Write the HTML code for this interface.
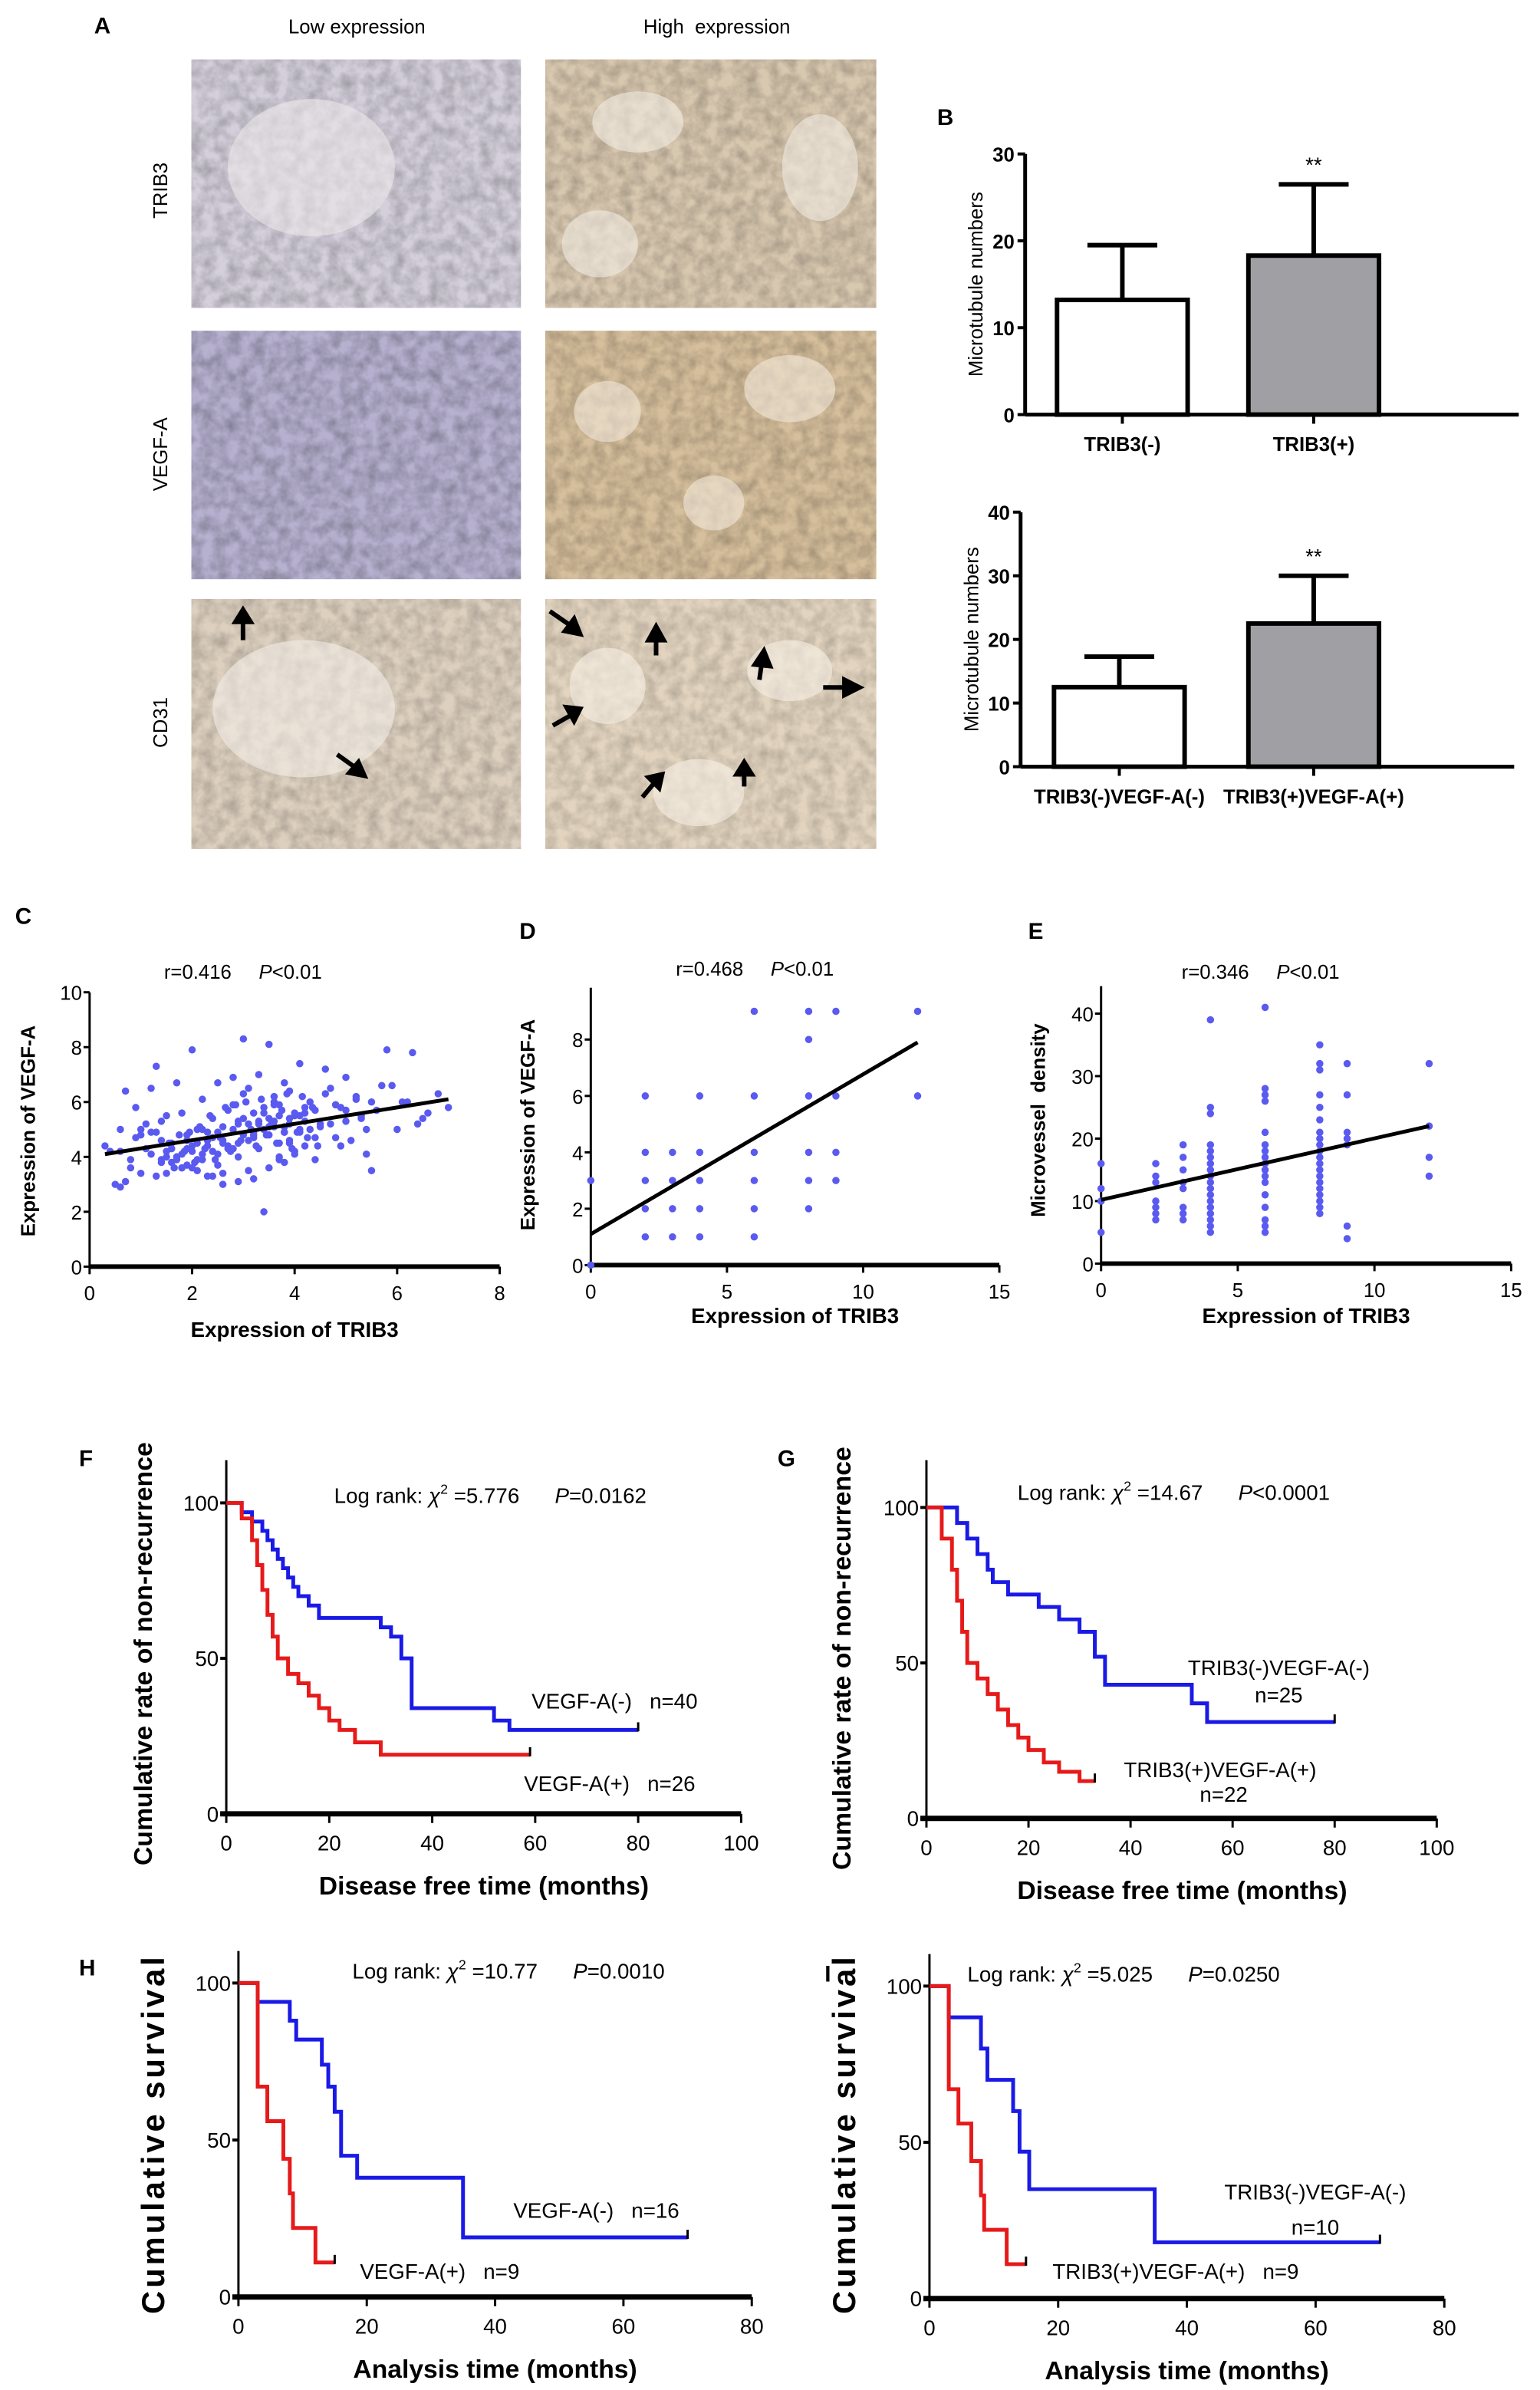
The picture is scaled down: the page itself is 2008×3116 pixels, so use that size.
<!DOCTYPE html>
<html><head><meta charset="utf-8">
<style>
html,body{margin:0;padding:0;background:#fff;}
svg{display:block;}
text{font-family:"Liberation Sans",Arial,sans-serif;fill:#000;white-space:pre;}
</style></head>
<body>
<svg id="fig" xmlns="http://www.w3.org/2000/svg" width="2008" height="3116" viewBox="0 0 1014 1568" preserveAspectRatio="none">
<defs>
<filter id="tex" x="0" y="0" width="100%" height="100%">
<feTurbulence type="fractalNoise" baseFrequency="0.12" numOctaves="3" seed="4"/>
<feColorMatrix type="matrix" values="0 0 0 0 0  0 0 0 0 0  0 0 0 0 0  0 0 0 -1.2 0.85"/>
<feComposite in2="SourceGraphic" operator="in"/>
</filter>
</defs>
<rect width="1014" height="1568" fill="#fff"/>

<g>
<text x="62" y="22" font-size="15" font-weight="bold">A</text>
<text x="235" y="22" font-size="13" text-anchor="middle">Low expression</text>
<text x="472" y="22" font-size="13" text-anchor="middle">High  expression</text>
<text transform="translate(110,125) rotate(-90)" font-size="13" text-anchor="middle">TRIB3</text>
<text transform="translate(110,298) rotate(-90)" font-size="13" text-anchor="middle">VEGF-A</text>
<text transform="translate(110,474) rotate(-90)" font-size="13" text-anchor="middle">CD31</text>
<g><rect x="126" y="39" width="217" height="163" fill="#d4cfdb"/><rect x="126" y="39" width="217" height="163" fill="#5e5490" filter="url(#tex)" opacity="0.3"/><ellipse cx="205" cy="110" rx="55" ry="45" fill="#ebe8ea" opacity="0.6"/></g>
<g><rect x="359" y="39" width="218" height="163" fill="#d9c8b0"/><rect x="359" y="39" width="218" height="163" fill="#7a5a40" filter="url(#tex)" opacity="0.3"/><ellipse cx="420" cy="80" rx="30" ry="20" fill="#f2ece2" opacity="0.6"/><ellipse cx="540" cy="110" rx="25" ry="35" fill="#f2ece2" opacity="0.6"/><ellipse cx="395" cy="160" rx="25" ry="22" fill="#f2ece2" opacity="0.6"/></g>
<g><rect x="126" y="217" width="217" height="163" fill="#b7b1d0"/><rect x="126" y="217" width="217" height="163" fill="#342c70" filter="url(#tex)" opacity="0.35"/></g>
<g><rect x="359" y="217" width="218" height="163" fill="#d6bf9c"/><rect x="359" y="217" width="218" height="163" fill="#8a6030" filter="url(#tex)" opacity="0.3"/><ellipse cx="400" cy="270" rx="22" ry="20" fill="#f1e8da" opacity="0.6"/><ellipse cx="520" cy="255" rx="30" ry="22" fill="#f1e8da" opacity="0.6"/><ellipse cx="470" cy="330" rx="20" ry="18" fill="#f1e8da" opacity="0.6"/></g>
<g><rect x="126" y="393" width="217" height="164" fill="#ddd0bf"/><rect x="126" y="393" width="217" height="164" fill="#7c6250" filter="url(#tex)" opacity="0.28"/><ellipse cx="200" cy="465" rx="60" ry="45" fill="#f4efe8" opacity="0.6"/></g>
<g><rect x="359" y="393" width="218" height="164" fill="#e2d4bf"/><rect x="359" y="393" width="218" height="164" fill="#80613f" filter="url(#tex)" opacity="0.25"/><ellipse cx="400" cy="450" rx="25" ry="25" fill="#f6f0e6" opacity="0.6"/><ellipse cx="520" cy="440" rx="28" ry="20" fill="#f6f0e6" opacity="0.6"/><ellipse cx="460" cy="520" rx="30" ry="22" fill="#f6f0e6" opacity="0.6"/></g>
<g stroke="#000" stroke-width="3" fill="#000">
<path d="M160 420 L160 404" /><path d="M155 408 L160 400 L165 408Z"/>
<path d="M222 495 L236 505"/><path d="M230 507 L240 509 L236 500Z"/>
<path d="M362 401 L378 412"/><path d="M372 414 L382 416 L378 406Z"/>
<path d="M432 430 L432 416"/><path d="M427 420 L432 411 L437 420Z"/>
<path d="M500 446 L502 432"/><path d="M497 436 L503 427 L507 437Z"/>
<path d="M542 451 L560 451"/><path d="M556 446 L566 451 L556 456Z"/>
<path d="M364 476 L378 468"/><path d="M373 464 L382 465 L378 473Z"/>
<path d="M423 523 L433 511"/><path d="M427 510 L436 508 L434 517Z"/>
<path d="M490 516 L490 504"/><path d="M485 508 L490 500 L495 508Z"/>
</g>
</g>

<text x="617" y="82" font-size="15" font-weight="bold">B</text>
<g id="b1"></g>
<g id="b2"></g>

<text x="10" y="606" font-size="15" font-weight="bold">C</text>
<text x="342" y="616" font-size="15" font-weight="bold">D</text>
<text x="677" y="616" font-size="15" font-weight="bold">E</text>
<g id="pc"></g>
<g id="pd"></g>
<g id="pe"></g>

<text x="52" y="962" font-size="15" font-weight="bold">F</text>
<text x="512" y="962" font-size="15" font-weight="bold">G</text>
<text x="52" y="1296" font-size="15" font-weight="bold">H</text>
<text x="543" y="1300" font-size="15" font-weight="bold">I</text>
<g id="pf"></g>
<g id="pg"></g>
<g id="ph"></g>
<g id="pi"></g>
</svg>
<script>
// ---- Panel B data ----
const b1Categories = ["TRIB3(-)", "TRIB3(+)"];
const b1Means = [13.2, 18.3];
const b1Errors = [6.3, 8.2];
const b1Ticks = [0, 10, 20, 30];
const b2Categories = ["TRIB3(-)VEGF-A(-)", "TRIB3(+)VEGF-A(+)"];
const b2Means = [12.5, 22.5];
const b2Errors = [4.8, 7.5];
const b2Ticks = [0, 10, 20, 30, 40];

// ---- Panel C data ----
const cX = [0.3,0.5,0.6,0.6,0.7,0.8,0.9,1.0,1.0,1.1,1.2,1.2,1.3,1.3,1.4,1.4,1.5,1.5,1.6,1.6,1.7,1.7,1.8,1.8,1.9,1.9,2.0,2.0,2.1,2.1,2.2,2.2,2.3,2.3,2.4,2.4,2.5,2.5,2.6,2.6,2.7,2.7,2.8,2.8,2.9,2.9,3.0,3.0,3.1,3.1,3.2,3.2,3.3,3.3,3.4,3.4,3.5,3.5,3.6,3.6,3.7,3.7,3.8,3.8,3.9,3.9,4.0,4.0,4.1,4.1,4.2,4.2,4.3,4.4,4.5,4.6,4.7,4.8,4.9,5.0,5.0,5.1,5.2,5.3,5.4,5.5,5.6,5.8,6.0,6.2,6.3,6.5,6.8,7.0,0.8,1.1,1.4,1.7,2.0,2.3,2.6,2.9,3.2,3.5,3.8,4.1,4.4,4.7,5.0,1.5,2.5,3.0,3.6,4.2,2.8,3.4,0.6,1.9,4.8,5.5,3.1,3.3,2.2,1.3,3.9,4.5,
 1.5,1.6,1.7,1.8,1.9,2.0,2.1,2.2,2.3,2.4,2.5,2.6,2.7,2.8,2.9,3.0,3.1,3.2,3.3,3.4,3.5,3.6,3.7,3.8,3.9,4.0,4.1,4.2,4.3,4.4,1.55,1.65,1.75,1.85,1.95,2.05,2.15,2.25,2.35,2.45,2.55,2.65,2.75,2.85,2.95,3.05,3.15,3.25,3.35,3.45,3.55,3.65,3.75,3.85,3.95,4.05,4.15,4.25,4.35,4.45,0.4,0.9,1.2,4.6,4.8,5.2,5.4,5.7,6.1,6.6,1.0,1.4,3.6,3.7,3.8,4.9,5.3,5.9,6.4,0.7,2.6,2.9,3.2,3.5,3.7,4.0,2.4,2.1,1.8,3.9];
const cY = [4.4,3.0,5.0,4.2,6.4,3.6,5.8,4.8,3.4,5.2,4.1,6.5,3.3,7.3,4.6,3.9,5.5,4.2,3.8,4.5,6.7,4.0,5.6,3.6,4.8,4.3,7.9,4.4,3.9,5.0,6.1,4.1,4.6,3.3,5.4,4.2,6.7,4.9,3.0,5.1,4.4,5.7,6.9,4.3,5.2,4.0,8.3,5.4,4.6,3.5,5.6,4.9,7.0,4.3,2.0,5.8,8.1,4.8,5.3,6.2,4.5,5.9,5.1,3.8,6.4,4.6,5.5,4.2,7.4,5.0,4.4,5.6,6.0,3.9,5.2,7.2,6.5,4.7,5.8,6.9,5.3,4.6,6.1,5.4,4.1,3.5,5.7,7.9,5.0,6.0,7.8,5.4,6.3,5.8,3.9,4.3,3.8,4.0,3.6,4.9,4.5,5.3,4.8,5.1,4.9,5.5,4.7,5.2,5.7,3.4,3.7,6.3,6.0,5.8,5.9,5.6,2.9,4.6,5.9,6.0,6.5,5.2,5.0,4.9,5.4,5.1,
 4.0,4.3,3.9,4.1,3.7,4.2,4.5,3.9,4.4,4.7,4.1,4.6,4.3,5.0,4.5,4.8,5.2,4.7,5.3,5.0,5.4,5.1,5.5,4.9,5.2,5.6,4.9,5.3,5.0,5.7,4.5,3.6,4.8,4.2,4.9,3.8,5.1,4.3,5.5,3.9,4.7,5.8,4.2,5.9,4.6,6.0,5.0,4.4,6.1,4.8,5.2,4.5,5.7,6.3,4.3,4.9,6.2,4.7,5.8,4.4,4.2,4.7,4.9,6.3,5.9,6.2,5.0,6.6,6.0,5.6,5.0,5.3,5.9,4.0,6.7,4.4,5.5,6.6,5.2,3.1,3.4,3.1,3.2,3.6,3.9,4.1,3.3,3.5,3.6,4.5];
const cLine = [[0.3, 4.1], [7.0, 6.1]];
const cXTicks = [0, 2, 4, 6, 8];
const cYTicks = [0, 2, 4, 6, 8, 10];

// ---- Panel D data ----
const dX = [0,0,2,2,2,2,2,3,3,3,3,4,4,4,4,4,6,6,6,6,6,6,8,8,8,8,8,8,9,9,9,9,12,12];
const dY = [0,3,1,2,3,4,6,1,2,3,4,1,2,3,4,6,1,2,3,4,6,9,2,3,4,6,8,9,3,4,6,9,6,9];
const dLine = [[0, 1.1], [12, 7.9]];
const dXTicks = [0, 5, 10, 15];
const dYTicks = [0, 2, 4, 6, 8];

// ---- Panel E data ----
const eX = [0,0,0,0,2,2,2,2,2,2,2,3,3,3,3,3,3,3,3,4,4,4,4,4,4,4,4,4,4,4,4,4,4,4,4,4,4,6,6,6,6,6,6,6,6,6,6,6,6,6,6,6,6,6,8,8,8,8,8,8,8,8,8,8,8,8,8,8,8,8,8,8,8,8,9,9,9,9,9,9,9,12,12,12,12];
const eY = [5,10,12,16,7,8,9,10,13,14,16,7,8,9,12,13,15,17,19,5,6,7,8,9,10,11,12,13,14,15,16,17,18,19,24,25,39,5,6,7,9,11,13,14,15,16,17,18,19,21,26,27,28,41,8,9,10,11,12,13,14,15,16,17,18,19,20,21,23,25,27,31,32,35,4,6,19,20,21,27,32,14,17,22,32];
const eLine = [[0, 10.2], [12, 22]];
const eXTicks = [0, 5, 10, 15];
const eYTicks = [0, 10, 20, 30, 40];

// ---- KM data ----
const fBlueT = [0,3,5,7,8,9,10,11,12,13,14,16,18,30,32,34,36,52,55];
const fBlueS = [100,97,94,91,88,85,82,79,76,73,70,67,63,60,57,50,34,30,27];
const fBlueEnd = 80;
const fRedT = [0,3,5,6,7,8,9,10,12,14,16,18,20,22,25,30];
const fRedS = [100,95,88,80,72,64,57,50,45,42,38,34,30,27,23,19];
const fRedEnd = 59;
const gBlueT = [0,6,8,10,12,13,16,22,26,30,33,35,36,52,55];
const gBlueS = [100,95,90,85,80,76,72,68,64,60,52,43,43,37,31];
const gBlueEnd = 80;
const gRedT = [0,3,5,6,7,8,10,12,14,16,18,20,23,26,30];
const gRedS = [100,90,80,70,60,50,45,40,35,30,26,22,18,15,12];
const gRedEnd = 33;
const hBlueT = [0,3,8,9,13,14,15,16,18.5,35];
const hBlueS = [100,94,88,82,74,67,59,45,38,19];
const hBlueEnd = 70;
const hRedT = [0,3,4.5,7,8,8.5,12];
const hRedS = [100,67,56,44,33,22,11];
const hRedEnd = 15;
const iBlueT = [0,3,8,9,13,14,15.5,35];
const iBlueS = [100,90,80,70,60,47,35,18];
const iBlueEnd = 70;
const iRedT = [0,3,4.5,6.5,8,8.5,12];
const iRedS = [100,67,56,44,33,22,11];
const iRedEnd = 15;
const kmFXTicks = [0, 20, 40, 60, 80, 100];
const kmHXTicks = [0, 20, 40, 60, 80];
const kmYTicks = [0, 50, 100];

const NS = "http://www.w3.org/2000/svg";
function mk(parent, tag, attrs, txt) {
  const e = document.createElementNS(NS, tag);
  for (const k in attrs) e.setAttribute(k, attrs[k]);
  if (txt !== undefined) e.textContent = txt;
  parent.appendChild(e);
  return e;
}
function lin(d0, d1, r0, r1) { return v => r0 + (v - d0) * (r1 - r0) / (d1 - d0); }

function barChart(id, cats, means, errs, ticks, geo) {
  const g = document.getElementById(id);
  const y = lin(0, ticks[ticks.length - 1], geo.y0, geo.y1);
  mk(g, "line", {x1: geo.ax, y1: geo.y0, x2: geo.ax, y2: geo.y1, stroke: "#000", "stroke-width": 2.5});
  const xa = mk(g, "line", {x1: geo.ax, y1: geo.y0, x2: geo.xe, y2: geo.y0, stroke: "#000", "stroke-width": 2.5});
  
  
  ticks.forEach(t => {
    mk(g, "line", {x1: geo.ax - 5, y1: y(t), x2: geo.ax, y2: y(t), stroke: "#000", "stroke-width": 2});
    const tl = mk(g, "text", {x: geo.ax - 7, y: y(t) + 5, "font-size": 13, "font-weight": "bold", "text-anchor": "end"}, t);
    
    
  });
  const yt = mk(g, "text", {transform: `translate(${geo.ax - 28},${(geo.y0 + geo.y1) / 2}) rotate(-90)`, "font-size": 13, "text-anchor": "middle"}, "Microtubule numbers");
  
  
  cats.forEach((c, i) => {
    const cx = geo.cx[i];
    const bw = geo.bw;
    mk(g, "line", {x1: cx, y1: y(means[i]), x2: cx, y2: y(means[i] + errs[i]), stroke: "#000", "stroke-width": 3});
    mk(g, "line", {x1: cx - 23, y1: y(means[i] + errs[i]), x2: cx + 23, y2: y(means[i] + errs[i]), stroke: "#000", "stroke-width": 3});
    const b = mk(g, "rect", {x: cx - bw / 2, y: y(means[i]), width: bw, height: geo.y0 - y(means[i]), fill: i ? "#a0a0a4" : "#fff", stroke: "#000", "stroke-width": 3});
    
    
    mk(g, "line", {x1: cx, y1: geo.y0, x2: cx, y2: geo.y0 + 6, stroke: "#000", "stroke-width": 2});
    const cl = mk(g, "text", {x: cx, y: geo.y0 + 24, "font-size": 13, "font-weight": "bold", "text-anchor": "middle"}, c);
    
    
    if (i === 1) {
      const s = mk(g, "text", {x: cx, y: y(means[i] + errs[i]) - 8, "font-size": 14, "text-anchor": "middle"}, "**");
      
      
    }
  });
}
barChart("b1", b1Categories, b1Means, b1Errors, b1Ticks, {ax: 675, xe: 1000, y0: 272, y1: 101, cx: [739, 865], bw: 86});
barChart("b2", b2Categories, b2Means, b2Errors, b2Ticks, {ax: 672, xe: 997, y0: 503, y1: 336, cx: [737, 865], bw: 86});

function scatter(id, xs, ys, line, xt, yt, geo) {
  const g = document.getElementById(id);
  const x = lin(xt[0], xt[xt.length - 1], geo.x0, geo.x1);
  const y = lin(yt[0], geo.ymaxv, geo.y0, geo.y1);
  mk(g, "line", {x1: geo.x0, y1: geo.y0, x2: geo.x0, y2: geo.ytop, stroke: "#000", "stroke-width": 1.5});
  mk(g, "line", {x1: geo.x0, y1: geo.y0, x2: geo.x1, y2: geo.y0, stroke: "#000", "stroke-width": 3});
  xt.forEach(t => {
    mk(g, "line", {x1: x(t), y1: geo.y0, x2: x(t), y2: geo.y0 + 5, stroke: "#000", "stroke-width": 1.5});
    const tl = mk(g, "text", {x: x(t), y: geo.y0 + 22, "font-size": 13, "text-anchor": "middle"}, t);
    
    
  });
  yt.forEach(t => {
    mk(g, "line", {x1: geo.x0 - 4, y1: y(t), x2: geo.x0, y2: y(t), stroke: "#000", "stroke-width": 1.5});
    const tl = mk(g, "text", {x: geo.x0 - 5, y: y(t) + 5, "font-size": 13, "text-anchor": "end"}, t);
    
    
  });
  xs.forEach((v, i) => {
    const p = mk(g, "circle", {cx: x(v), cy: y(ys[i]), r: 2.4, fill: "#5a5af0"});
    
    
  });
  const l = mk(g, "line", {x1: x(line[0][0]), y1: y(line[0][1]), x2: x(line[1][0]), y2: y(line[1][1]), stroke: "#000", "stroke-width": 2.5});
  
  
  const st = mk(g, "text", {x: geo.statx, y: geo.staty, "font-size": 13}, "");
  mk(st, "tspan", {}, geo.r + "     ");
  mk(st, "tspan", {"font-style": "italic"}, "P");
  mk(st, "tspan", {}, "<0.01");
  
  
  const xtt = mk(g, "text", {x: (geo.x0 + geo.x1) / 2, y: geo.xty, "font-size": 14, "font-weight": "bold", "text-anchor": "middle"}, "Expression of TRIB3");
  
  
  const ytt = mk(g, "text", {transform: `translate(${geo.ytx},${geo.yty}) rotate(-90)`, "font-size": 13, "font-weight": "bold", "text-anchor": "middle"}, geo.ytitle);
  
  
}
scatter("pc", cX, cY, cLine, cXTicks, cYTicks, {x0: 59, x1: 329, y0: 831, y1: 651, ymaxv: 10, ytop: 651, statx: 108, staty: 642, r: "r=0.416", xty: 877, ytx: 23, yty: 742, ytitle: "Expression of VEGF-A"});
scatter("pd", dX, dY, dLine, dXTicks, dYTicks, {x0: 389, x1: 658, y0: 830, y1: 682, ymaxv: 8, ytop: 648, statx: 445, staty: 640, r: "r=0.468", xty: 868, ytx: 352, yty: 738, ytitle: "Expression of VEGF-A"});
scatter("pe", eX, eY, eLine, eXTicks, eYTicks, {x0: 725, x1: 995, y0: 829, y1: 665, ymaxv: 40, ytop: 647, statx: 778, staty: 642, r: "r=0.346", xty: 868, ytx: 688, yty: 735, ytitle: "Microvessel  density"});

function km(id, series, xt, geo) {
  const g = document.getElementById(id);
  const x = lin(xt[0], xt[xt.length - 1], geo.x0, geo.x1);
  const y = lin(0, 100, geo.y0, geo.y100);
  mk(g, "line", {x1: geo.x0, y1: geo.y0, x2: geo.x0, y2: geo.ytop, stroke: "#000", "stroke-width": 1.5});
  mk(g, "line", {x1: geo.x0 - 4, y1: geo.y0, x2: geo.x1, y2: geo.y0, stroke: "#000", "stroke-width": 3.5});
  xt.forEach(t => {
    mk(g, "line", {x1: x(t), y1: geo.y0, x2: x(t), y2: geo.y0 + 6, stroke: "#000", "stroke-width": 1.5});
    const tl = mk(g, "text", {x: x(t), y: geo.y0 + 24, "font-size": 14, "text-anchor": "middle"}, t);
    
    
  });
  kmYTicks.forEach(t => {
    mk(g, "line", {x1: geo.x0 - 4, y1: y(t), x2: geo.x0, y2: y(t), stroke: "#000", "stroke-width": 2});
    const tl = mk(g, "text", {x: geo.x0 - 5, y: y(t) + 5, "font-size": 14, "text-anchor": "end"}, t);
    
    
  });
  series.forEach(s => {
    let d = `M${x(s.t[0])},${y(s.s[0])}`;
    for (let i = 1; i < s.t.length; i++) d += ` H${x(s.t[i])} V${y(s.s[i])}`;
    d += ` H${x(s.end)}`;
    const p = mk(g, "path", {d: d, fill: "none", stroke: s.color, "stroke-width": 2.5});
    
    
    mk(g, "line", {x1: x(s.end), y1: y(s.s[s.s.length - 1]) - 5, x2: x(s.end), y2: y(s.s[s.s.length - 1]) + 1, stroke: "#000", "stroke-width": 1.5});
  });
  const st = mk(g, "text", {x: geo.sx, y: geo.sy, "font-size": 14}, "");
  mk(st, "tspan", {}, "Log rank: ");
  mk(st, "tspan", {"font-style": "italic"}, "χ");
  mk(st, "tspan", {"font-size": 9, dy: -6}, "2");
  mk(st, "tspan", {dy: 6}, " =" + geo.chi + "      ");
  mk(st, "tspan", {"font-style": "italic"}, "P");
  mk(st, "tspan", {}, geo.p);
  
  
  geo.labels.forEach(L => {
    const t = mk(g, "text", {x: L[0], y: L[1], "font-size": 14, "text-anchor": L[3] || "start"}, L[2]);
    
    
  });
  const xtt = mk(g, "text", {x: (geo.x0 + x(80)) / 2 + geo.xtoff, y: geo.y0 + 53, "font-size": 17, "font-weight": "bold", "text-anchor": "middle"}, geo.xtitle);
  
  
  const ytt = mk(g, "text", {transform: `translate(${geo.ytx},${geo.yty}) rotate(-90)`, "font-size": geo.ytsize, "font-weight": "bold", "text-anchor": "middle", "letter-spacing": geo.ytls}, geo.ytitle);
  
  
}
km("pf", [{t: fBlueT, s: fBlueS, end: fBlueEnd, color: "#1a1ae6", name: "curve-vegfa-negative"}, {t: fRedT, s: fRedS, end: fRedEnd, color: "#e61a1a", name: "curve-vegfa-positive"}], kmFXTicks,
  {x0: 149, x1: 488, y0: 1190, y100: 986, ytop: 958, sx: 220, sy: 986, chi: "5.776", p: "=0.0162", xtitle: "Disease free time (months)", xtoff: 34, ytx: 100, yty: 1085, ytsize: 17, ytls: 0, ytitle: "Cumulative rate of non-recurrence",
   labels: [[350, 1121, "VEGF-A(-)   n=40"], [345, 1175, "VEGF-A(+)   n=26"]]});
km("pg", [{t: gBlueT, s: gBlueS, end: gBlueEnd, color: "#1a1ae6", name: "curve-trib3-vegfa-negative"}, {t: gRedT, s: gRedS, end: gRedEnd, color: "#e61a1a", name: "curve-trib3-vegfa-positive"}], kmFXTicks,
  {x0: 610, x1: 946, y0: 1193, y100: 989, ytop: 958, sx: 670, sy: 984, chi: "14.67", p: "<0.0001", xtitle: "Disease free time (months)", xtoff: 34, ytx: 560, yty: 1088, ytsize: 17, ytls: 0, ytitle: "Cumulative rate of non-recurrence",
   labels: [[842, 1099, "TRIB3(-)VEGF-A(-)", "middle"], [842, 1117, "n=25", "middle"], [740, 1166, "TRIB3(+)VEGF-A(+)"], [790, 1182, "n=22"]]});
km("ph", [{t: hBlueT, s: hBlueS, end: hBlueEnd, color: "#1a1ae6", name: "curve-vegfa-negative-survival"}, {t: hRedT, s: hRedS, end: hRedEnd, color: "#e61a1a", name: "curve-vegfa-positive-survival"}], kmHXTicks,
  {x0: 157, x1: 495, y0: 1507, y100: 1301, ytop: 1280, sx: 232, sy: 1298, chi: "10.77", p: "=0.0010", xtitle: "Analysis time (months)", xtoff: 0, ytx: 108, yty: 1400, ytsize: 21, ytls: 2, ytitle: "Cumulative survival",
   labels: [[338, 1455, "VEGF-A(-)   n=16"], [237, 1495, "VEGF-A(+)   n=9"]]});
km("pi", [{t: iBlueT, s: iBlueS, end: iBlueEnd, color: "#1a1ae6", name: "curve-trib3-vegfa-negative-survival"}, {t: iRedT, s: iRedS, end: iRedEnd, color: "#e61a1a", name: "curve-trib3-vegfa-positive-survival"}], kmHXTicks,
  {x0: 612, x1: 951, y0: 1508, y100: 1303, ytop: 1282, sx: 637, sy: 1300, chi: "5.025", p: "=0.0250", xtitle: "Analysis time (months)", xtoff: 0, ytx: 563, yty: 1400, ytsize: 21, ytls: 2, ytitle: "Cumulative survival",
   labels: [[866, 1443, "TRIB3(-)VEGF-A(-)", "middle"], [866, 1466, "n=10", "middle"], [693, 1495, "TRIB3(+)VEGF-A(+)   n=9"]]});
</script>
</body></html>
